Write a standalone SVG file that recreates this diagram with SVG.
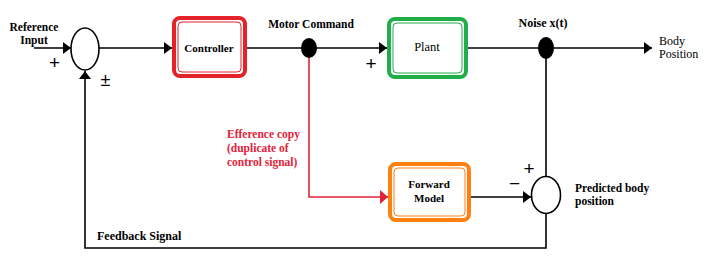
<svg xmlns="http://www.w3.org/2000/svg" width="705" height="261" viewBox="0 0 705 261">
<defs>
<marker id="ah" markerUnits="userSpaceOnUse" markerWidth="8" markerHeight="12" refX="8" refY="6" orient="auto"><path d="M0,0 L8,6 L0,12 z" fill="#000"/></marker>
<marker id="ahr" markerUnits="userSpaceOnUse" markerWidth="8" markerHeight="14" refX="8" refY="7" orient="auto"><path d="M0,0 L8,7 L0,14 z" fill="#e3223a"/></marker>
<style>
.t{font-family:'Liberation Serif','Times New Roman',serif;font-size:11px;fill:#000}
.b{font-weight:bold}
.c{text-anchor:middle}
.r{fill:#e3223a;font-size:11.5px}
.sg{font-family:'Liberation Sans',Arial,sans-serif;font-size:19px;fill:#000;text-anchor:middle}
.ln{stroke:#000;stroke-width:1.6;fill:none}
</style>
</defs>
<rect width="705" height="261" fill="#fff"/>
<g id="connectors">
<line class="ln" x1="34" y1="48" x2="71" y2="48" marker-end="url(#ah)"/>
<line class="ln" x1="99" y1="48" x2="172" y2="48" marker-end="url(#ah)"/>
<line class="ln" x1="247" y1="48" x2="387" y2="48" marker-end="url(#ah)"/>
<line class="ln" x1="468" y1="48" x2="652" y2="48" marker-end="url(#ah)"/>
<polyline class="ln" points="546,58 546,176"/>
<polyline class="ln" points="546,213 546,248 85,248 85,71" marker-end="url(#ah)"/>
<line class="ln" x1="471" y1="197" x2="531" y2="197" marker-end="url(#ah)"/>
<polyline points="309,58 309,197 388,197" fill="none" stroke="#e3223a" stroke-width="1.6" marker-end="url(#ahr)"/>
</g>
<g id="sum1"><ellipse cx="85" cy="49" rx="14" ry="21" fill="#fff" stroke="#000" stroke-width="1.6"/></g>
<g id="controller">
<rect x="174" y="18" width="71" height="58" rx="6" fill="#fff" stroke="#e3222a" stroke-width="4"/>
<rect x="178" y="22" width="63" height="50" rx="4" fill="none" stroke="#e3222a" stroke-width="1"/>
<text class="t b c" x="209" y="52">Controller</text>
</g>
<g id="motor"><ellipse cx="309" cy="48" rx="8" ry="10" fill="#000"/><text class="t b c" x="311" y="28" style="font-size:11.5px">Motor Command</text></g>
<g id="plant">
<rect x="389" y="19" width="77" height="58" rx="6" fill="#fff" stroke="#1fae4a" stroke-width="4"/>
<rect x="393" y="23" width="69" height="50" rx="4" fill="none" stroke="#1fae4a" stroke-width="1"/>
<text class="t c" x="427" y="51" style="font-size:12.5px">Plant</text>
</g>
<g id="noise"><ellipse cx="546" cy="48" rx="8" ry="11" fill="#000"/><text class="t b c" x="543" y="27" style="font-size:12px">Noise x(t)</text></g>
<g id="forward">
<rect x="390" y="164" width="79" height="56" rx="6" fill="#fff" stroke="#ff7f10" stroke-width="4"/>
<rect x="394" y="168" width="71" height="48" rx="4" fill="none" stroke="#ff7f10" stroke-width="1"/>
<text class="t b c" x="429" y="188">Forward</text>
<text class="t b c" x="429" y="202">Model</text>
</g>
<g id="sum2"><ellipse cx="546" cy="195" rx="14.5" ry="18.5" fill="#fff" stroke="#000" stroke-width="1.6"/></g>
<g id="labels">
<text class="t b c" x="34" y="30.5" style="font-size:11.5px">Reference</text>
<text class="t b c" x="34" y="43.5" style="font-size:11.5px">Input</text>
<text class="sg" x="54.5" y="69">+</text>
<text class="sg" x="105.5" y="86" style="font-size:18px">±</text>
<text class="sg" x="371" y="70">+</text>
<text class="sg" x="529" y="175">+</text>
<text class="sg" x="514.5" y="190">−</text>
<text class="t" x="659" y="45" style="font-size:12px">Body</text>
<text class="t" x="659" y="58" style="font-size:12px">Position</text>
<text class="t b" x="575" y="192" style="font-size:11.5px">Predicted body</text>
<text class="t b" x="575" y="205" style="font-size:11.5px">position</text>
<text class="t b" x="97" y="240" style="font-size:12px">Feedback Signal</text>
<text class="t b r" x="227" y="138">Efference copy</text>
<text class="t b r" x="227" y="152">(duplicate of</text>
<text class="t b r" x="227" y="166">control signal)</text>
</g>
</svg>
